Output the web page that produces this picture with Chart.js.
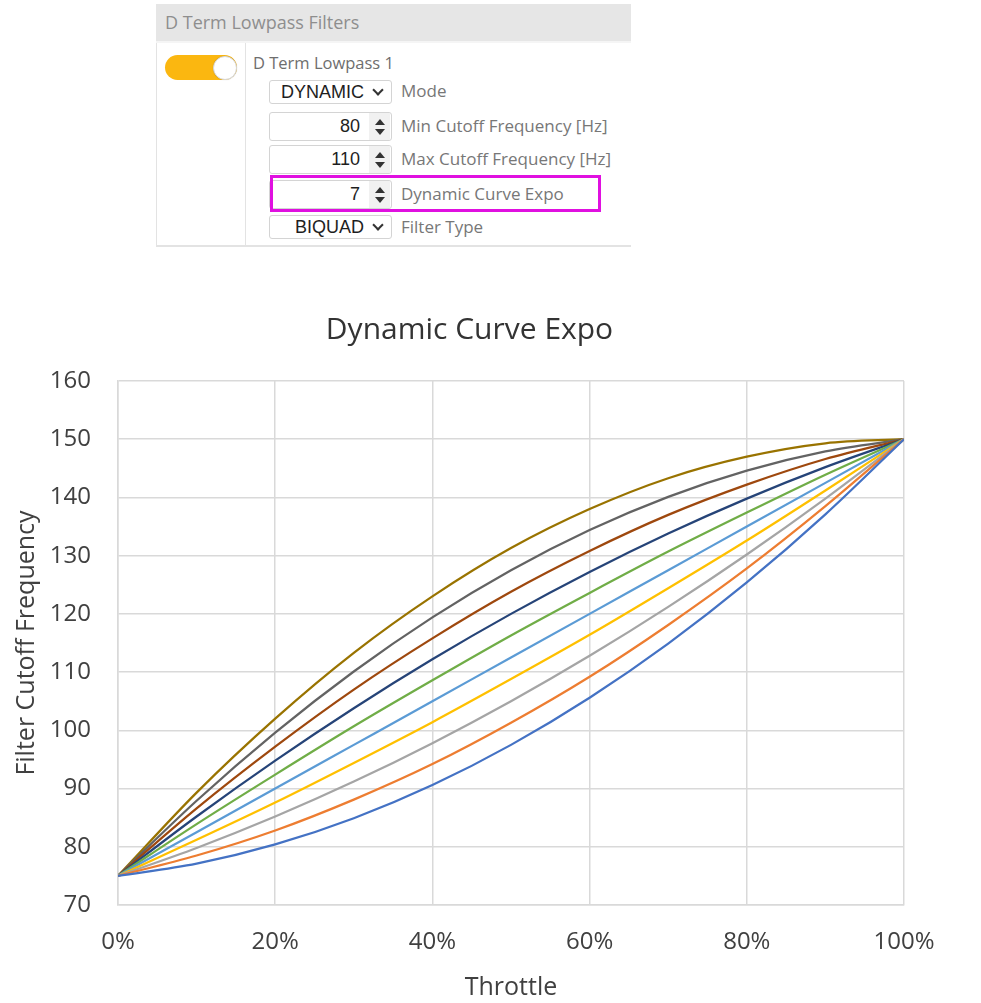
<!DOCTYPE html>
<html><head><meta charset="utf-8">
<script src="https://cdn.jsdelivr.net/npm/chart.js@4"></script>
<style>
html,body{margin:0;padding:0;background:#fff;width:981px;height:1003px;overflow:hidden;font-family:'Open Sans',sans-serif;}
#panel{position:absolute;left:156px;top:4px;width:475px;height:244px;}
.hdr{position:absolute;left:0;top:0;width:475px;height:37px;background:#e6e6e6;border-bottom:2px solid #f5f5f5;}
.hdr span{position:absolute;left:9px;top:6px;font-size:18px;line-height:24px;color:#8e8e8e;}
.body{position:absolute;left:0;top:39px;width:474px;height:202px;border-left:1px solid #e3e3e3;border-bottom:2px solid #e3e3e3;}
.divider{position:absolute;left:89px;top:39px;width:1px;height:204px;background:#e3e3e3;}
.toggle{position:absolute;left:9px;top:51px;width:72px;height:25px;border-radius:13px;background:#fbb710;}
.knob{position:absolute;left:57px;top:52px;width:22px;height:22px;border-radius:50%;background:#fff;border:1px solid #d8d8d8;box-shadow:0 0 1px rgba(0,0,0,.2);}
.sub{position:absolute;left:97px;top:49px;font-size:16.5px;line-height:20px;color:#6e6e6e;}
.box{position:absolute;left:113px;width:121px;background:#fff;border:1px solid #d4d4d4;border-radius:3px;font-family:'Liberation Sans',Arial,sans-serif;font-size:18px;color:#1e1e1e;}
.box .val{position:absolute;right:31px;top:0;bottom:0;display:flex;align-items:center;}
.spin{position:absolute;left:99px;top:0;width:21px;bottom:0;background:#f1f1f1;}
.up,.dn{position:absolute;left:6px;width:0;height:0;border-left:5px solid transparent;border-right:5px solid transparent;}
.up{border-bottom:6px solid #333;}
.dn{border-top:6px solid #333;}
.chev{position:absolute;left:104px;width:6px;height:6px;border-right:2px solid #333;border-bottom:2px solid #333;transform:rotate(45deg);}
.lbl{position:absolute;left:245px;font-size:17px;line-height:22px;color:#777;white-space:nowrap;}
.mag{position:absolute;left:114px;top:171px;width:325px;height:31px;border:3.5px solid #e010e0;}
#chartWrap{position:absolute;left:0;top:290px;width:981px;height:713px;}
</style></head>
<body>
<div id="panel">
  <div class="hdr"><span>D Term Lowpass Filters</span></div>
  <div class="body"></div>
  <div class="divider"></div>
  <div class="toggle"></div><div class="knob"></div>
  <div class="sub">D Term Lowpass 1</div>

  <div class="box" style="top:76px;height:22px;"><span class="val" style="right:27px;">DYNAMIC</span><span class="chev" style="top:5px;"></span></div>
  <div class="lbl" style="top:76px;">Mode</div>

  <div class="box" style="top:108px;height:27px;"><span class="val">80</span><span class="spin"><span class="up" style="top:6px"></span><span class="dn" style="top:16px"></span></span></div>
  <div class="lbl" style="top:111px;">Min Cutoff Frequency [Hz]</div>

  <div class="box" style="top:141px;height:27px;"><span class="val">110</span><span class="spin"><span class="up" style="top:6px"></span><span class="dn" style="top:16px"></span></span></div>
  <div class="lbl" style="top:144px;">Max Cutoff Frequency [Hz]</div>

  <div class="box" style="top:176px;height:27px;"><span class="val">7</span><span class="spin"><span class="up" style="top:6px"></span><span class="dn" style="top:16px"></span></span></div>
  <div class="lbl" style="top:179px;">Dynamic Curve Expo</div>
  <div class="mag"></div>

  <div class="box" style="top:211px;height:22px;"><span class="val" style="right:27px;">BIQUAD</span><span class="chev" style="top:5px;"></span></div>
  <div class="lbl" style="top:212px;">Filter Type</div>
</div>

<div id="chartWrap"><canvas id="c" width="981" height="713"></canvas></div>

<script>
const throttle = [0, 10, 20, 30, 40, 50, 60, 70, 80, 90, 100];
const seriesNames = ['c1','c2','c3','c4','c5','c6','c7','c8','c9','c10'];
const curveBlue       = [75, 77.1, 80.4, 84.9, 90.6, 97.5, 105.6, 114.9, 125.4, 137.1, 150];
const curveOrange     = [75, 78.5, 82.8, 88.1, 94.2, 101.3, 109.2, 118.1, 127.8, 138.5, 150];
const curveGray       = [75, 79.8, 85.2, 91.2, 97.8, 105.0, 112.8, 121.2, 130.2, 139.8, 150];
const curveYellow     = [75, 81.2, 87.6, 94.4, 101.4, 108.8, 116.4, 124.4, 132.6, 141.2, 150];
const curveLightBlue  = [75, 82.5, 90.0, 97.5, 105.0, 112.5, 120.0, 127.5, 135.0, 142.5, 150];
const curveGreen      = [75, 83.9, 92.4, 100.7, 108.6, 116.3, 123.6, 130.7, 137.4, 143.9, 150];
const curveDarkBlue   = [75, 85.2, 94.8, 103.8, 112.2, 120.0, 127.2, 133.8, 139.8, 145.2, 150];
const curveDarkRed    = [75, 86.6, 97.2, 107.0, 115.8, 123.8, 130.8, 137.0, 142.2, 146.6, 150];
const curveDarkGray   = [75, 87.9, 99.6, 110.1, 119.4, 127.5, 134.4, 140.1, 144.6, 147.9, 150];
const curveDarkYellow = [75, 89.3, 102.0, 113.3, 123.0, 131.3, 138.0, 143.3, 147.0, 149.3, 150];

const allCurves = [curveBlue, curveOrange, curveGray, curveYellow, curveLightBlue,
                   curveGreen, curveDarkBlue, curveDarkRed, curveDarkGray, curveDarkYellow];
const colors = ['#4472C4','#ED7D31','#A5A5A5','#FFC000','#5B9BD5',
                '#70AD47','#264478','#9E480E','#636363','#997300'];

const datasets = allCurves.map((vals, i) => ({
  label: seriesNames[i],
  data: throttle.map((t, j) => ({x: t, y: vals[j]})),
  borderColor: colors[i],
  backgroundColor: colors[i],
  borderWidth: 2.25,
  pointRadius: 0,
  fill: false,
  cubicInterpolationMode: 'monotone'
}));

const txt = '#404040';
new Chart(document.getElementById('c'), {
  type: 'line',
  data: { datasets },
  options: {
    responsive: false,
    animation: false,
    devicePixelRatio: 1,
    layout: { padding: { left: 35, right: 77, top: 0, bottom: 0 } },
    plugins: {
      legend: { display: false },
      tooltip: { enabled: false },
      title: {
        display: true,
        text: 'Dynamic Curve Expo',
        color: '#333',
        font: { family: 'Open Sans', size: 30, weight: 'normal' },
        padding: { top: 22, bottom: 33 }
      }
    },
    scales: {
      x: {
        type: 'linear', min: 0, max: 100,
        ticks: { stepSize: 20, callback: v => v + '%', color: txt,
                 font: { family: 'Open Sans', size: 24 }, padding: 23, maxRotation: 0 },
        grid: { color: '#d9d9d9', lineWidth: 1.5, drawTicks: false },
        border: { display: true, color: '#d9d9d9', width: 1.5 },
        title: { display: true, text: 'Throttle', color: txt,
                 font: { family: 'Open Sans', size: 25 }, padding: { top: 0, bottom: 0 } },
        afterFit: s => { s.height = 98; }
      },
      y: {
        min: 70, max: 160,
        ticks: { stepSize: 10, color: txt, font: { family: 'Open Sans', size: 24 }, padding: 27 },
        grid: { color: '#d9d9d9', lineWidth: 1.5, drawTicks: false },
        border: { display: true, color: '#d9d9d9', width: 1.5 },
        title: { display: true, text: 'Filter Cutoff Frequency', color: txt,
                 font: { family: 'Open Sans', size: 25 }, padding: { top: -23, bottom: 0 } },
        afterFit: s => { s.width = 83; }
      }
    }
  }
});
</script>
</body></html>
